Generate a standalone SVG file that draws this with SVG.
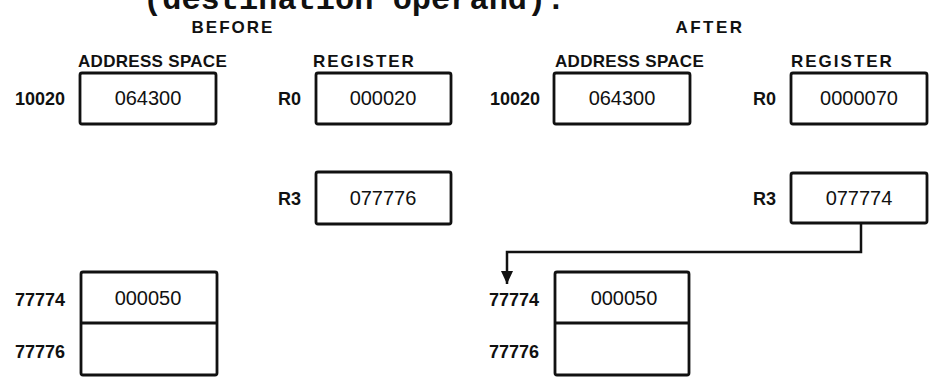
<svg xmlns="http://www.w3.org/2000/svg" width="932" height="381" viewBox="0 0 932 381">
<style>
.box{fill:#fff;stroke:#111;stroke-width:2.8}
.val{font-family:"Liberation Sans",Arial,sans-serif;font-size:20px;fill:#111;text-anchor:middle}
.lbl{font-family:"Liberation Sans",Arial,sans-serif;font-size:18px;font-weight:bold;fill:#111;text-anchor:end}
.hdr{font-family:"Liberation Sans",Arial,sans-serif;font-size:17px;font-weight:bold;fill:#111;text-anchor:middle}
.col{font-family:"Liberation Sans",Arial,sans-serif;font-size:17px;font-weight:bold;fill:#111}
.conn{fill:none;stroke:#111;stroke-width:2.5}
</style>
<defs>
<marker id="arr" viewBox="0 0 13 12" refX="13" refY="6" markerWidth="13" markerHeight="12" markerUnits="userSpaceOnUse" orient="auto">
<path d="M0,0 L13,6 L0,12 Z" fill="#111"/>
</marker>
</defs>
<rect width="932" height="381" fill="#fff"/>
<text x="143" y="9" font-family="'Liberation Mono','Courier New',monospace" font-size="32" font-weight="bold" fill="#111">(destination operand).</text>
<text class="hdr" x="233" y="33" letter-spacing="2">BEFORE</text>
<text class="hdr" x="710" y="33" letter-spacing="2.5">AFTER</text>
<text class="col" x="78" y="67" letter-spacing="0.3">ADDRESS SPACE</text>
<text class="col" x="313" y="67" letter-spacing="2">REGISTER</text>
<text class="col" x="555" y="67" letter-spacing="0.3">ADDRESS SPACE</text>
<text class="col" x="791" y="67" letter-spacing="2">REGISTER</text>
<g id="before-mem-10020">
<rect class="box" x="80" y="73" width="136" height="51" rx="2"/>
<text class="lbl" x="65" y="105">10020</text>
<text class="val" x="148" y="105">064300</text>
</g>
<g id="before-r0">
<rect class="box" x="316" y="73" width="135" height="51" rx="2"/>
<text class="lbl" x="301" y="105">R0</text>
<text class="val" x="383" y="105">000020</text>
</g>
<g id="before-r3">
<rect class="box" x="316" y="172" width="135" height="52" rx="2"/>
<text class="lbl" x="301" y="205">R3</text>
<text class="val" x="383" y="205">077776</text>
</g>
<g id="before-mem-77774">
<rect class="box" x="81" y="272" width="136" height="103" rx="2"/>
<line class="box" x1="81" y1="323" x2="217" y2="323"/>
<text class="lbl" x="65" y="306">77774</text>
<text class="lbl" x="65" y="358">77776</text>
<text class="val" x="148" y="305">000050</text>
</g>
<g id="after-mem-10020">
<rect class="box" x="554" y="73" width="136" height="51" rx="2"/>
<text class="lbl" x="540" y="105">10020</text>
<text class="val" x="622" y="105">064300</text>
</g>
<g id="after-r0">
<rect class="box" x="791" y="73" width="136" height="51" rx="2"/>
<text class="lbl" x="776" y="105">R0</text>
<text class="val" x="859" y="105">0000070</text>
</g>
<g id="after-r3">
<rect class="box" x="791" y="173" width="136" height="50" rx="2"/>
<text class="lbl" x="776" y="205">R3</text>
<text class="val" x="859" y="205">077774</text>
</g>
<g id="after-mem-77774">
<rect class="box" x="555" y="272" width="134" height="103" rx="2"/>
<line class="box" x1="555" y1="323" x2="689" y2="323"/>
<text class="lbl" x="539" y="306">77774</text>
<text class="lbl" x="539" y="358">77776</text>
<text class="val" x="624" y="305">000050</text>
</g>
<g id="connectors">
<polyline class="conn" points="861,223 861,252 507,252 507,284" marker-end="url(#arr)"/>
</g>
</svg>
